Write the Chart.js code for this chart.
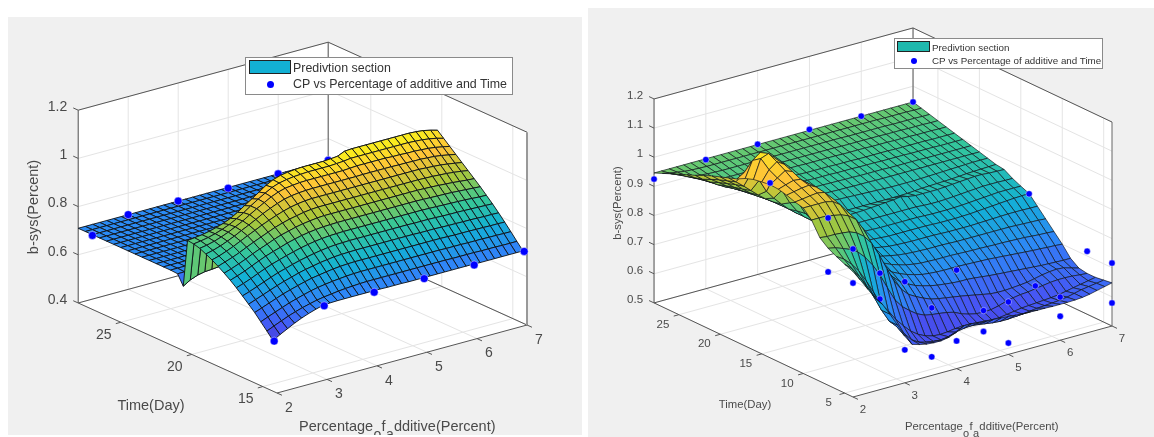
<!DOCTYPE html>
<html>
<head>
<meta charset="utf-8">
<title>b-sys surfaces</title>
<script src="https://cdn.jsdelivr.net/npm/chart.js@4"></script>
<style>
  html, body { margin: 0; padding: 0; background: #fff; }
  body { width: 1154px; height: 437px; position: relative; overflow: hidden; font-family: "Liberation Sans", Arial, sans-serif; color: #333; }
  .panel { position: absolute; background: #f0f0f0; }
  .panel canvas { display: block; filter: blur(0.35px); }
  .legend { position: absolute; background: #fff; border: 1px solid #8a8a8a; box-sizing: border-box; filter: blur(0.25px); }
  .legend .sw { position: absolute; border: 1px solid #222; box-sizing: border-box; }
  .legend .dot { position: absolute; background: #0000ff; border-radius: 50%; }
  .legend span { position: absolute; white-space: nowrap; line-height: 1; }
</style>
</head>
<body>
<div class="panel" id="p1" style="left:8px;top:17px;width:574px;height:418px"><canvas id="chartLeft" width="574" height="418"></canvas></div>
<div class="panel" id="p2" style="left:588px;top:8px;width:566px;height:429px"><canvas id="chartRight" width="566" height="429"></canvas></div>
<script>
// axis ticks
const zTicksLeft = [0.4, 0.6, 0.8, 1, 1.2];
const zLabelsLeft = ['0.4', '0.6', '0.8', '1', '1.2'];
const tTicksLeft = [15, 20, 25];
const zTicksRight = [0.5, 0.6, 0.7, 0.8, 0.9, 1, 1.1, 1.2];
const zLabelsRight = ['0.5', '0.6', '0.7', '0.8', '0.9', '1', '1.1', '1.2'];
const tTicksRight = [5, 10, 15, 20, 25];
const pTicks = [2, 3, 4, 5, 6, 7];
const legendNames = ['Predivtion section', 'CP vs Percentage of additive and Time'];

// surface columns: percentage of additive
const pGrid = [2, 2.14, 2.29, 2.43, 2.57, 2.71, 2.86, 3, 3.14, 3.29, 3.43, 3.57, 3.71, 3.86, 4, 4.14, 4.29, 4.43,
  4.57, 4.71, 4.86, 5, 5.14, 5.29, 5.43, 5.57, 5.71, 5.86, 6, 6.14, 6.29, 6.43, 6.57, 6.71, 6.86, 7];

// left surface: time rows, b-sys x 1000 in each row
const tRowsLeft = [28, 27.5, 27, 26.5, 26, 25.5, 25, 24.5, 24, 23.5, 23, 22.5, 22, 21.5, 21, 20.6, 20.3, 19.87, 19.44,
  19.01, 18.58, 18.15, 17.72, 17.29, 16.86, 16.43, 16, 15.57, 15.14, 14.71, 14.28];
const zRowsLeft = [
  [710,710,710,710,710,710, 710,710,710,710,710,710, 710,710,710,710,710,710, 710,710,710,710,710,710, 710,710,710,710,710,710, 710,710,710,710,710,710],
  [710,710,710,710,710,710, 710,710,710,710,710,710, 710,710,710,710,710,710, 710,710,710,710,710,710, 710,710,710,710,710,710, 710,710,710,710,710,710],
  [710,710,710,710,710,710, 710,710,710,710,710,710, 710,710,710,710,710,710, 710,710,710,710,710,710, 710,710,710,710,710,710, 710,710,710,710,710,710],
  [710,710,710,710,710,710, 710,710,710,710,710,710, 710,710,710,710,710,710, 710,710,710,710,710,710, 710,710,710,710,710,710, 710,710,710,710,710,710],
  [710,710,710,710,710,710, 710,710,710,710,710,710, 710,710,710,710,710,710, 710,710,710,710,710,710, 710,710,710,710,710,710, 710,710,710,710,710,710],
  [710,710,710,710,710,710, 710,710,710,710,710,710, 710,710,710,710,710,710, 710,710,710,710,710,710, 710,710,710,710,710,710, 710,710,710,710,710,710],
  [710,710,710,710,710,710, 710,710,710,710,710,710, 710,710,710,710,710,710, 710,710,710,710,710,710, 710,710,710,710,710,710, 710,710,710,710,710,710],
  [710,710,710,710,710,710, 710,710,710,710,710,710, 710,710,710,710,710,710, 710,710,710,710,710,710, 710,710,710,710,710,710, 710,710,710,710,710,710],
  [710,710,710,710,710,710, 710,710,710,710,710,710, 710,710,710,710,710,710, 710,710,710,710,710,710, 710,710,710,710,710,710, 710,710,710,710,710,710],
  [710,710,710,710,710,710, 710,710,710,710,710,710, 710,710,710,710,710,710, 710,710,710,710,710,710, 710,710,710,710,710,710, 710,710,710,710,710,710],
  [710,710,710,710,710,710, 710,710,710,710,710,710, 710,710,710,710,710,710, 710,710,710,710,710,710, 710,710,710,710,710,710, 710,710,710,710,710,710],
  [710,710,710,710,710,710, 710,710,710,710,710,710, 710,710,710,710,710,710, 710,710,710,710,710,710, 710,710,710,710,710,710, 710,710,710,710,710,710],
  [710,710,710,710,710,710, 710,710,710,710,710,710, 710,710,710,710,710,710, 710,710,710,710,710,710, 710,710,710,710,710,710, 710,710,710,710,710,710],
  [710,710,710,710,710,710, 710,710,710,710,710,710, 710,710,710,710,710,710, 710,710,710,710,710,710, 710,710,710,710,710,710, 710,710,710,710,710,710],
  [708,708,708,708,708,710, 710,710,710,710,710,710, 710,710,710,710,710,710, 710,710,710,710,710,710, 710,710,710,710,710,710, 710,710,710,710,710,710],
  [667,685,697,703,705,708, 710,710,710,710,710,710, 710,710,710,710,710,710, 710,710,710,710,710,710, 710,710,710,710,710,710, 710,710,710,710,710,710],
  [865,868,872,878,886,895, 908,925,945,965,985,1005, 1020,1030,1035,1038,1040,1040, 1040,1040,1042,1045,1058,1060, 1060,1060,1060,1060,1060,1060, 1060,1060,1058,1055,1048,1040],
  [862,866,872,880,890,902, 918,935,955,975,992,1008, 1018,1024,1028,1030,1032,1032, 1032,1032,1034,1036,1040,1040, 1040,1040,1040,1040,1040,1040, 1040,1038,1036,1032,1026,1018],
  [855,860,868,878,890,904, 920,938,955,972,988,1000, 1008,1012,1015,1016,1016,1016, 1016,1016,1016,1018,1020,1020, 1020,1020,1020,1018,1018,1016, 1016,1014,1012,1008,1002,996],
  [843,850,860,872,885,900, 915,930,946,960,972,982, 988,992,994,995,995,995, 995,995,995,995,996,996, 996,996,996,995,995,994, 994,992,990,986,980,974],
  [830,838,850,862,876,890, 904,918,930,942,952,960, 966,970,972,972,972,972, 972,972,972,972,972,972, 972,972,972,972,972,972, 970,968,966,962,957,952],
  [815,825,836,848,862,875, 888,900,912,922,930,936, 942,946,948,948,948,948, 948,948,948,948,948,948, 948,948,948,948,948,947, 946,944,942,939,935,930],
  [798,808,820,832,846,858, 870,882,892,900,908,914, 918,922,924,924,924,924, 924,924,924,924,924,924, 924,924,924,924,923,922, 920,918,916,913,910,908],
  [780,790,802,815,828,840, 851,860,870,878,885,890, 894,897,898,899,899,899, 899,899,899,899,899,899, 899,899,899,898,897,896, 895,894,892,890,888,886],
  [760,770,782,795,807,818, 828,837,845,853,859,864, 868,871,872,873,873,873, 873,873,873,873,873,873, 873,873,873,872,871,870, 869,868,867,865,863,862],
  [738,748,760,772,783,794, 803,812,820,827,833,838, 842,845,846,847,847,847, 847,847,847,847,847,847, 846,846,846,845,844,843, 843,842,841,840,839,838],
  [715,726,738,749,760,770, 779,788,795,801,807,811, 815,817,818,819,819,819, 819,819,819,819,819,819, 818,818,818,817,816,816, 815,815,814,813,813,812],
  [692,703,715,726,737,746, 755,763,770,775,780,784, 787,789,790,790,790,790, 790,790,790,790,790,790, 790,790,790,789,788,788, 788,787,787,786,786,785],
  [665,677,689,700,711,720, 729,737,743,748,752,755, 758,760,761,761,761,761, 761,761,761,761,761,761, 761,761,760,760,760,759, 759,759,758,758,757,757],
  [638,651,664,676,686,695, 703,710,715,719,723,726, 728,730,731,731,731,731, 731,731,731,731,731,731, 731,731,730,730,730,730, 729,729,729,728,728,728],
  [610,627,643,658,671,682, 692,700,702,703,703,703, 703,703,703,703,702,702, 702,701,701,701,701,701, 701,701,701,701,701,700, 700,700,700,700,700,700]
];

// right surface: time rows, b-sys x 1000 in each row
const tRowsRight = [28, 27, 26, 25, 24, 23, 22, 21, 20, 19, 18, 17, 16, 15, 14, 13, 12, 11, 10, 9, 8, 7, 6, 5, 4];
const zRowsRight = [
  [946,946,946,946,946,946, 946,946,946,946,946,946, 946,946,946,946,946,946, 946,946,946,946,946,946, 946,946,946,946,946,946, 946,946,946,946,946,946],
  [958,952,948,944,942,941, 940,940,940,940,940,940, 940,940,940,940,940,940, 940,940,940,940,940,940, 940,940,940,940,940,940, 939,939,939,939,938,938],
  [970,960,950,942,938,935, 934,933,933,933,933,933, 933,933,933,933,933,933, 933,933,933,933,933,933, 932,932,932,932,932,932, 931,931,931,931,930,930],
  [982,968,955,945,936,930, 927,926,926,926,926,926, 926,926,926,926,926,926, 926,926,926,926,925,925, 925,925,925,925,924,924, 924,923,923,923,922,922],
  [994,977,962,948,936,928, 923,920,920,920,920,920, 920,920,920,920,919,919, 919,919,919,918,918,918, 918,917,917,917,916,916, 916,915,915,915,914,914],
  [1005,985,968,952,938,927, 919,913,912,912,912,912, 911,911,911,910,910,910, 910,909,909,909,908,908, 908,908,908,907,907,907, 907,907,906,906,906,906],
  [1018,998,980,962,946,932, 920,910,906,905,905,905, 904,904,904,903,903,903, 902,902,902,901,901,901, 900,900,900,900,899,899, 899,899,898,898,898,898],
  [1030,1010,990,970,952,936, 922,908,900,898,897,897, 896,896,895,895,894,894, 893,893,892,892,892,892, 891,891,891,891,891,890, 890,890,890,890,890,890],
  [1040,1020,1000,978,958,940, 924,908,896,890,888,887, 886,886,885,885,884,884, 883,883,883,882,882,882, 882,882,882,882,882,882, 882,882,882,882,882,882],
  [1050,1030,1008,986,964,944, 926,908,892,882,878,876, 875,875,874,873,872,871, 870,869,868,867,866,866, 866,866,867,868,869,870, 871,872,873,874,874,874],
  [1060,1075,1070,1035,990,960, 932,908,888,872,862,856, 852,850,849,849,849,849, 849,849,849,849,849,850, 852,854,855,856,857,858, 860,862,863,864,865,866],
  [1075,1130,1150,1120,1060,1000, 950,915,888,868,856,852, 852,852,852,853,854,856, 858,860,862,866,860,856, 856,856,856,858,860,862, 864,866,866,864,863,862],
  [1085,1150,1160,1135,1080,1020, 965,920,888,865,852,845, 842,840,838,838,838,838, 838,838,838,838,838,836, 835,835,836,838,840,842, 844,846,846,846,845,845],
  [1090,1125,1145,1130,1085,1030, 975,925,885,858,842,832, 828,826,824,823,822,822, 822,822,822,822,821,820, 820,820,821,822,824,826, 828,830,832,832,832,832],
  [1094,1110,1128,1118,1085,1035, 985,930,885,855,835,822, 815,812,810,808,806,806, 806,806,806,806,805,804, 804,804,805,806,808,810, 812,814,816,818,819,820],
  [1092,1100,1108,1105,1085,1045, 995,940,890,855,830,815, 805,800,796,792,790,789, 788,788,788,788,787,786, 786,786,786,787,788,789, 790,791,791,791,790,790],
  [1085,1090,1095,1098,1085,1050, 1005,950,895,855,825,806, 792,785,780,775,772,770, 769,768,768,768,767,766, 766,766,766,766,766,766, 766,765,764,763,762,760],
  [1075,1078,1082,1085,1080,1055, 1012,960,900,855,820,798, 782,770,762,755,750,747, 746,745,745,745,744,743, 742,742,741,740,740,739, 738,737,735,733,732,730],
  [1068,1068,1068,1068,1062,1045, 1012,965,905,850,812,785, 765,752,742,735,728,725, 723,722,722,722,721,720, 719,718,716,714,712,710, 708,706,705,703,702,700],
  [1040,1040,1040,1035,1030,1020, 1000,960,905,845,800,768, 745,730,718,710,703,698, 695,692,690,690,688,685, 682,680,678,676,674,672, 670,668,667,666,665,665],
  [993,990,990,988,985,975, 955,925,880,825,775,740, 715,700,688,678,672,668, 664,660,655,650,645,640, 638,638,640,642,645,650, 656,660,662,660,652,645],
  [970,965,955,945,930,905, 870,830,780,730,700,680, 662,650,645,642,638,632, 620,612,606,605,606,612, 620,626,630,632,636,640, 644,646,646,645,642,640],
  [955,940,915,885,845,800, 750,720,685,655,630,612, 600,592,590,592,596,598, 598,596,594,592,592,596, 600,604,606,608,610,612, 615,620,625,630,635,640],
  [942,920,885,845,800,750, 705,680,650,620,605,598, 594,592,596,605,610,612, 610,606,602,600,600,602, 604,607,610,612,614,616, 620,626,632,636,640,644],
  [930,895,855,820,790,750, 705,660,625,617,612,610, 610,615,625,640,640,636, 634,634,632,630,628,626, 625,624,624,623,623,623, 624,626,630,636,642,648]
];

// measured points
const dotPLeft = [2, 3, 4, 5, 6, 7, 2, 3, 4, 5, 6, 7];
const dotTLeft = [27, 28, 28, 28, 28, 28, 14.2, 14.2, 14.2, 14.2, 14.2, 14.2];
const dotZLeft = [0.707, 0.71, 0.71, 0.707, 0.71, 0.71, 0.61, 0.70, 0.70, 0.70, 0.70, 0.70];

const dotPRight = [2, 3, 4, 5, 6, 7, 2, 3, 7, 2, 2, 3, 3, 4, 4, 5, 5, 6, 7, 2, 2, 3, 3, 4, 4, 5, 5, 6, 6, 7, 7];
const dotTRight = [28, 28, 28, 28, 28, 28, 14, 14, 14, 7, 7, 7, 7, 7, 7, 7, 7, 7, 7, 4, 4, 4, 4, 4, 4, 4, 4, 4, 4, 4, 4];
const dotZRight = [0.925, 0.943, 0.947, 0.949, 0.946, 0.946, 1.10, 1.007, 0.819, 1.074, 0.889, 0.836, 0.747, 0.668, 0.50,
  0.61, 0.538, 0.646, 0.716, 1.008, 0.891, 0.847, 0.613, 0.838, 0.595, 0.68, 0.539, 0.648, 0.582, 0.716, 0.579];

const parula = [[62,38,168], [72,82,244], [46,135,247], [18,177,214], [55,200,151], [171,199,57], [254,195,56], [249,251,21]];

function parulaColor(f) {
  f = Math.min(1, Math.max(0, f)) * (parula.length - 1);
  const i = Math.min(parula.length - 2, Math.floor(f));
  const k = f - i;
  const c = parula[i].map((v, n) => Math.round(v + (parula[i + 1][n] - v) * k));
  return 'rgb(' + c.join(',') + ')';
}

function makePanel(cfg) {
  // orthographic view: pixel position of the front floor corner plus one step per unit of each axis
  const v = cfg.view;
  const proj = (p, t, z) => ({
    x: v.front[0] + (p - 2) * v.pStep[0] + (t - v.tMin) * v.tStep[0],
    y: v.front[1] + (p - 2) * v.pStep[1] + (t - v.tMin) * v.tStep[1] + (z - v.zMin) * v.zStep
  });
  const zMax = cfg.zTicks[cfg.zTicks.length - 1];
  const items = [];
  const add = (key, ds) => items.push({ key, ds });
  const poly = (pts, fillCol, lineCol, w) => ({
    type: 'line', data: pts.concat([pts[0]]), borderColor: lineCol, borderWidth: w,
    backgroundColor: fillCol, fill: 'shape', pointRadius: 0, tension: 0
  });
  const seg = (a, b, col, w) => ({
    type: 'line', data: [a, b], borderColor: col, borderWidth: w, fill: false, pointRadius: 0, tension: 0
  });

  // white walls and floor
  const P = proj, a = 2, b = 7, t0 = v.tMin, t1 = v.tMax, z0 = v.zMin;
  add(-30, poly([P(a,t1,z0), P(b,t1,z0), P(b,t1,zMax), P(a,t1,zMax)], '#fff', '#fff', 0));
  add(-30, poly([P(b,t1,z0), P(b,t0,z0), P(b,t0,zMax), P(b,t1,zMax)], '#fff', '#fff', 0));
  add(-30, poly([P(a,t0,z0), P(b,t0,z0), P(b,t1,z0), P(a,t1,z0)], '#fff', '#fff', 0));

  // grid lines
  const gridCol = '#e4e4e4';
  cfg.zTicks.forEach(z => {
    add(-20, seg(P(a,t1,z), P(b,t1,z), gridCol, 1));
    add(-20, seg(P(b,t1,z), P(b,t0,z), gridCol, 1));
  });
  pTicks.forEach(p => {
    add(-20, seg(P(p,t1,z0), P(p,t1,zMax), gridCol, 1));
    add(-20, seg(P(p,t0,z0), P(p,t1,z0), gridCol, 1));
  });
  cfg.tTicks.forEach(t => {
    add(-20, seg(P(b,t,z0), P(b,t,zMax), gridCol, 1));
    add(-20, seg(P(a,t,z0), P(b,t,z0), gridCol, 1));
  });

  // box edges and ticks
  const boxCol = '#555';
  [[P(a,t1,z0), P(a,t1,zMax)], [P(a,t1,zMax), P(b,t1,zMax)], [P(b,t1,zMax), P(b,t0,zMax)], [P(b,t1,z0), P(b,t1,zMax)],
   [P(a,t1,z0), P(b,t1,z0)], [P(b,t1,z0), P(b,t0,z0)], [P(a,t1,z0), P(a,t0,z0)], [P(a,t0,z0), P(b,t0,z0)]]
    .forEach(e => add(-10, seg(e[0], e[1], boxCol, 1)));
  add(-10, seg(P(b,t0,z0), P(b,t0,zMax), cfg.sideEdge, cfg.sideEdgeWidth));
  cfg.zTicks.forEach(z => add(-10, seg(P(a,t1,z), P(a,t1 + cfg.tickT,z), boxCol, 1)));
  cfg.tTicks.forEach(t => add(-10, seg(P(a,t,z0), P(a - cfg.tickP,t,z0), boxCol, 1)));
  pTicks.forEach(p => add(-10, seg(P(p,t0,z0), P(p,t0 - cfg.tickT,z0), boxCol, 1)));

  // surface, far cells first; each facet takes the colour of its nearer edge
  const nP = pGrid.length;
  cfg.tRows.forEach((t, r) => {
    if (r === cfg.tRows.length - 1) return;
    for (let i = nP - 2; i >= 0; i--) {
      const q = [[i, r], [i + 1, r], [i + 1, r + 1], [i, r + 1]];
      const zs = q.map(c => cfg.zRows[c[1]][c[0]] / 1000);
      const pts = q.map((c, n) => P(pGrid[c[0]], cfg.tRows[c[1]], zs[n]));
      const m = (zs[2] + zs[3]) / 2;
      add(r * 100 + (nP - i), poly(pts, parulaColor((m - cfg.cLow) / (cfg.cHigh - cfg.cLow)), cfg.meshCol, cfg.meshWidth));
    }
  });

  // measured points go in just in front of the cell they sit on
  cfg.dotP.forEach((p, n) => {
    const t = cfg.dotT[n];
    let r = cfg.tRows.findIndex(x => x <= t);
    if (r < 0) r = cfg.tRows.length - 1;
    const i = pGrid.findIndex(x => x >= p);
    add((r + 2) * 100 + (nP - i) + 2.5, {
      type: 'line', data: [P(p, t, cfg.dotZ[n])], showLine: false, pointRadius: cfg.dotSize, pointBorderWidth: 0.8,
      pointBackgroundColor: '#0000ff', pointBorderColor: 'rgba(255,255,255,0.55)', fill: false
    });
  });

  items.sort((m, n) => m.key - n.key);
  // Chart.js paints the last dataset first
  const datasets = items.map(m => m.ds).reverse();

  const textPlugin = {
    id: 'axisText',
    afterDraw(chart) {
      const c = chart.ctx, sx = chart.scales.x, sy = chart.scales.y;
      const at = o => ({ x: sx.getPixelForValue(o.x), y: sy.getPixelForValue(o.y) });
      c.save();
      c.fillStyle = '#4a4a4a';
      c.textBaseline = 'middle';
      c.font = cfg.tickFont;
      c.textAlign = 'right';
      cfg.zTicks.forEach((z, n) => {
        const o = at(P(2, t1, z));
        c.fillText(cfg.zLabels[n], o.x + cfg.zOff[0], o.y + cfg.zOff[1]);
      });
      c.textAlign = 'center';
      cfg.tTicks.forEach(t => {
        const o = at(P(2, t, z0));
        c.fillText(String(t), o.x + cfg.tOff[0], o.y + cfg.tOff[1]);
      });
      pTicks.forEach(p => {
        const o = at(P(p, t0, z0));
        c.fillText(String(p), o.x + cfg.pOff[0], o.y + cfg.pOff[1]);
      });
      c.font = cfg.titleFont;
      const tl = at({ x: cfg.timeTitle[0], y: cfg.timeTitle[1] });
      c.fillText('Time(Day)', tl.x, tl.y);
      const zl = at({ x: cfg.zTitle[0], y: cfg.zTitle[1] });
      c.save();
      c.translate(zl.x, zl.y);
      c.rotate(-Math.PI / 2);
      c.fillText('b-sys(Percent)', 0, 0);
      c.restore();
      // x title: the underscores were read as subscripts
      c.textAlign = 'left';
      const base = at({ x: cfg.xTitle[0], y: cfg.xTitle[1] });
      let x = base.x;
      [['Percentage', 0], ['o', 1], ['f', 0], ['a', 1], ['dditive(Percent)', 0]].forEach(s => {
        c.font = s[1] ? cfg.subFont : cfg.titleFont;
        c.fillText(s[0], x, base.y + (s[1] ? cfg.subDrop : 0));
        x += c.measureText(s[0]).width + 0.3;
      });
      c.restore();
    }
  };

  return new Chart(document.getElementById(cfg.canvas), {
    type: 'line',
    data: { datasets },
    plugins: [textPlugin],
    options: {
      responsive: false,
      animation: false,
      events: [],
      layout: { padding: 0, autoPadding: false },
      plugins: { legend: { display: false }, tooltip: { enabled: false } },
      scales: {
        x: { type: 'linear', display: false, min: cfg.area[0], max: cfg.area[1] },
        y: { type: 'linear', display: false, reverse: true, min: cfg.area[2], max: cfg.area[3] }
      }
    }
  });
}

makePanel({
  canvas: 'chartLeft', area: [8, 582, 17, 435],
  view: { front: [277, 393], pStep: [50, -13.6], tStep: [-14.2, -6.43], zStep: -241, tMin: 14, tMax: 28, zMin: 0.4 },
  zTicks: zTicksLeft, zLabels: zLabelsLeft, tTicks: tTicksLeft,
  tRows: tRowsLeft, zRows: zRowsLeft, dotP: dotPLeft, dotT: dotTLeft, dotZ: dotZLeft,
  cLow: 0.56, cHigh: 1.06, meshCol: 'rgba(15,20,25,0.92)', meshWidth: 1, dotSize: 4,
  sideEdge: '#999', sideEdgeWidth: 2, tickT: 0.35, tickP: 0.1,
  tickFont: '14px "Liberation Sans"', titleFont: '14.5px "Liberation Sans"', subFont: '14px "Liberation Sans"', subDrop: 8,
  zOff: [-11, -3], tOff: [-17, 13], pOff: [12, 15],
  timeTitle: [151, 406], zTitle: [34, 207], xTitle: [299, 427]
});

makePanel({
  canvas: 'chartRight', area: [588, 1154, 8, 437],
  view: { front: [853, 397], pStep: [51.8, -14.2], tStep: [-8.29, -3.92], zStep: -291.4, tMin: 4, tMax: 28, zMin: 0.5 },
  zTicks: zTicksRight, zLabels: zLabelsRight, tTicks: tTicksRight,
  tRows: tRowsRight, zRows: zRowsRight, dotP: dotPRight, dotT: dotTRight, dotZ: dotZRight,
  cLow: 0.5, cHigh: 1.2, meshCol: 'rgba(15,20,25,0.85)', meshWidth: 0.8, dotSize: 3.2,
  sideEdge: '#666', sideEdgeWidth: 1, tickT: 0.6, tickP: 0.1,
  tickFont: '11.5px "Liberation Sans"', titleFont: '11.3px "Liberation Sans"', subFont: '11px "Liberation Sans"', subDrop: 7,
  zOff: [-11, -3], tOff: [-16, 10], pOff: [10, 13],
  timeTitle: [745, 405], zTitle: [618, 203], xTitle: [905, 427]
});

// legends
function makeLegend(o) {
  const box = document.createElement('div');
  box.className = 'legend';
  box.style.cssText = `left:${o.x}px;top:${o.y}px;width:${o.w}px;height:${o.h}px;border-width:${o.border}px`;
  box.innerHTML =
    `<div class="sw" style="left:${o.swX}px;top:${o.swY}px;width:${o.swW}px;height:${o.swH}px;background:${o.color}"></div>` +
    `<div class="dot" style="left:${o.swX + o.swW / 2 - o.dot}px;top:${o.row2 - o.dot}px;width:${o.dot * 2}px;height:${o.dot * 2}px"></div>` +
    `<span style="left:${o.txtX}px;top:${o.row1 - o.font / 2}px;font-size:${o.font}px">${legendNames[0]}</span>` +
    `<span style="left:${o.txtX}px;top:${o.row2 - o.font / 2}px;font-size:${o.font}px">${legendNames[1]}</span>`;
  document.body.appendChild(box);
}
makeLegend({ x: 245, y: 57, w: 268, h: 38, border: 1.5, swX: 3, swY: 2, swW: 42, swH: 14, color: '#12b0d4', dot: 3.5, row1: 10, row2: 26, txtX: 47, font: 12.4 });
makeLegend({ x: 894, y: 38, w: 209, h: 31, border: 1, swX: 2, swY: 2, swW: 33, swH: 11, color: '#1fb8ad', dot: 3, row1: 9, row2: 22, txtX: 37, font: 9.8 });
</script>
</body>
</html>
